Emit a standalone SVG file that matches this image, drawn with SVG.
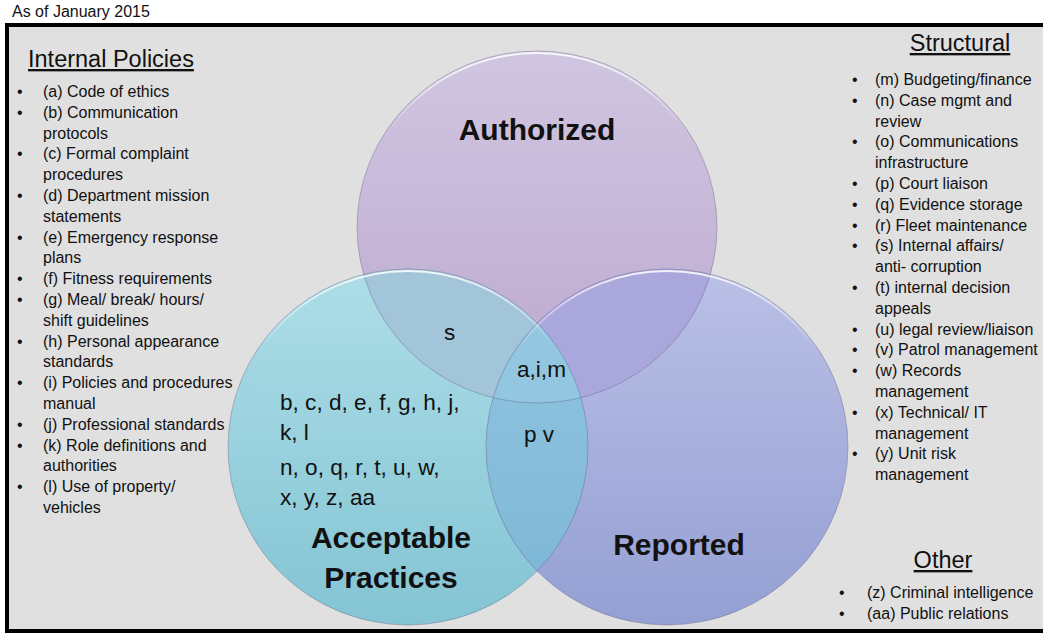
<svg xmlns="http://www.w3.org/2000/svg" width="1043" height="634" viewBox="0 0 1043 634">
<style>
  .t{font-family:"Liberation Sans",Arial,sans-serif;fill:#111;}
  .li{font-size:16px;}
  .hd{font-size:23.5px;text-decoration:underline;}
  .big{font-size:30px;font-weight:bold;text-anchor:middle;}
  .mid{font-size:22.6px;}
  .edge{fill:none;stroke:#5a5078;stroke-opacity:0.35;stroke-width:1;}
  .hi{fill:none;stroke:url(#gHi);stroke-width:2;}
</style>
<defs>
  <linearGradient id="gA" x1="0" y1="0" x2="0" y2="1">
    <stop offset="0" stop-color="#d0c6e1"/>
    <stop offset="1" stop-color="#bca8ce"/>
  </linearGradient>
  <linearGradient id="gP" x1="0" y1="0" x2="0" y2="1">
    <stop offset="0" stop-color="#addee7"/>
    <stop offset="1" stop-color="#84c4d4"/>
  </linearGradient>
  <linearGradient id="gR" x1="0" y1="0" x2="0" y2="1">
    <stop offset="0" stop-color="#bac0e6"/>
    <stop offset="1" stop-color="#949fd3"/>
  </linearGradient>
  <linearGradient id="gPR" x1="0" y1="0" x2="0" y2="1">
    <stop offset="0" stop-color="#92c6e1"/>
    <stop offset="1" stop-color="#7cb6d5"/>
  </linearGradient>
  <linearGradient id="gHi" x1="0" y1="0" x2="0" y2="1">
    <stop offset="0" stop-color="#ffffff" stop-opacity="0.85"/>
    <stop offset="0.22" stop-color="#ffffff" stop-opacity="0"/>
  </linearGradient>
  <clipPath id="clipA"><ellipse cx="537" cy="227" rx="180" ry="176"/></clipPath>
  <clipPath id="clipP"><ellipse cx="408" cy="447" rx="180" ry="178"/></clipPath>
  <clipPath id="clipR"><ellipse cx="667" cy="447" rx="181" ry="178"/></clipPath>
</defs>

<rect x="0" y="0" width="1043" height="634" fill="#ffffff"/>
<text class="t" x="12" y="17" font-size="16">As of January 2015</text>
<rect id="frame" x="7" y="25" width="1045" height="606" fill="#e0e0e0" stroke="#000" stroke-width="4"/>

<g id="node-authorized">
  <ellipse cx="537" cy="227" rx="180" ry="176" fill="url(#gA)"/>
</g>
<g id="node-acceptable">
  <ellipse cx="408" cy="447" rx="180" ry="178" fill="url(#gP)"/>
</g>
<g id="node-reported">
  <ellipse cx="667" cy="447" rx="181" ry="178" fill="url(#gR)"/>
</g>
<g id="overlaps">
  <ellipse cx="537" cy="227" rx="180" ry="176" fill="#a2c5da" clip-path="url(#clipP)"/>
  <ellipse cx="537" cy="227" rx="180" ry="176" fill="#aaa7dc" clip-path="url(#clipR)"/>
  <ellipse cx="408" cy="447" rx="180" ry="178" fill="url(#gPR)" clip-path="url(#clipR)"/>
  <g clip-path="url(#clipP)">
    <ellipse cx="537" cy="227" rx="180" ry="176" fill="#93c6e1" clip-path="url(#clipR)"/>
  </g>
</g>
<g id="outlines">
  <ellipse class="edge" cx="537" cy="227" rx="180" ry="176"/>
  <ellipse class="edge" cx="408" cy="447" rx="180" ry="178"/>
  <ellipse class="edge" cx="667" cy="447" rx="181" ry="178"/>
  <ellipse class="hi" cx="537" cy="227" rx="178" ry="174"/>
  <ellipse class="hi" cx="408" cy="447" rx="178" ry="176"/>
  <ellipse class="hi" cx="667" cy="447" rx="179" ry="176"/>
</g>
<g id="connectors"/>

<g id="venn-labels">
  <text class="t big" x="537" y="140">Authorized</text>
  <text class="t big" x="391" y="548">Acceptable</text>
  <text class="t big" x="391" y="588">Practices</text>
  <text class="t big" x="679" y="555">Reported</text>
  <text class="t mid" x="444" y="340">s</text>
  <text class="t mid" x="517" y="377">a,i,m</text>
  <text class="t mid" x="524" y="442">p v</text>
  <text class="t mid" x="280" y="410">b, c, d, e, f, g, h, j,</text>
  <text class="t mid" x="280" y="440">k, l</text>
  <text class="t mid" x="280" y="475">n, o, q, r, t, u, w,</text>
  <text class="t mid" x="280" y="505">x, y, z, aa</text>
</g>

<g id="internal-policies" class="t li">
  <text class="hd" x="28" y="67">Internal Policies</text>
  <text x="17" y="97">•</text><text x="43" y="97">(a) Code of ethics</text>
  <text x="17" y="117.8">•</text><text x="43" y="117.8">(b) Communication</text>
  <text x="43" y="138.6">protocols</text>
  <text x="17" y="159.4">•</text><text x="43" y="159.4">(c) Formal complaint</text>
  <text x="43" y="180.2">procedures</text>
  <text x="17" y="201">•</text><text x="43" y="201">(d) Department mission</text>
  <text x="43" y="221.8">statements</text>
  <text x="17" y="242.6">•</text><text x="43" y="242.6">(e) Emergency response</text>
  <text x="43" y="263.4">plans</text>
  <text x="17" y="284.2">•</text><text x="43" y="284.2">(f) Fitness requirements</text>
  <text x="17" y="305">•</text><text x="43" y="305">(g) Meal/ break/ hours/</text>
  <text x="43" y="325.8">shift guidelines</text>
  <text x="17" y="346.6">•</text><text x="43" y="346.6">(h) Personal appearance</text>
  <text x="43" y="367.4">standards</text>
  <text x="17" y="388.2">•</text><text x="43" y="388.2">(i) Policies and procedures</text>
  <text x="43" y="409">manual</text>
  <text x="17" y="429.8">•</text><text x="43" y="429.8">(j) Professional standards</text>
  <text x="17" y="450.6">•</text><text x="43" y="450.6">(k) Role definitions and</text>
  <text x="43" y="471.4">authorities</text>
  <text x="17" y="492.2">•</text><text x="43" y="492.2">(l) Use of property/</text>
  <text x="43" y="513">vehicles</text>
</g>

<g id="structural" class="t li">
  <text class="hd" x="960" y="51" text-anchor="middle">Structural</text>
  <text x="852" y="85">•</text><text x="875" y="85">(m) Budgeting/finance</text>
  <text x="852" y="105.8">•</text><text x="875" y="105.8">(n) Case mgmt and</text>
  <text x="875" y="126.6">review</text>
  <text x="852" y="147.4">•</text><text x="875" y="147.4">(o) Communications</text>
  <text x="875" y="168.2">infrastructure</text>
  <text x="852" y="189">•</text><text x="875" y="189">(p) Court liaison</text>
  <text x="852" y="209.8">•</text><text x="875" y="209.8">(q) Evidence storage</text>
  <text x="852" y="230.6">•</text><text x="875" y="230.6">(r) Fleet maintenance</text>
  <text x="852" y="251.4">•</text><text x="875" y="251.4">(s) Internal affairs/</text>
  <text x="875" y="272.2">anti- corruption</text>
  <text x="852" y="293">•</text><text x="875" y="293">(t) internal decision</text>
  <text x="875" y="313.8">appeals</text>
  <text x="852" y="334.6">•</text><text x="875" y="334.6">(u) legal review/liaison</text>
  <text x="852" y="355.4">•</text><text x="875" y="355.4">(v) Patrol management</text>
  <text x="852" y="376.2">•</text><text x="875" y="376.2">(w) Records</text>
  <text x="875" y="397">management</text>
  <text x="852" y="417.8">•</text><text x="875" y="417.8">(x) Technical/ IT</text>
  <text x="875" y="438.6">management</text>
  <text x="852" y="459.4">•</text><text x="875" y="459.4">(y) Unit risk</text>
  <text x="875" y="480.2">management</text>
</g>

<g id="other" class="t li">
  <text class="hd" x="943" y="568" text-anchor="middle">Other</text>
  <text x="839" y="598">•</text><text x="867" y="598">(z) Criminal intelligence</text>
  <text x="839" y="619">•</text><text x="867" y="619">(aa) Public relations</text>
</g>
</svg>
